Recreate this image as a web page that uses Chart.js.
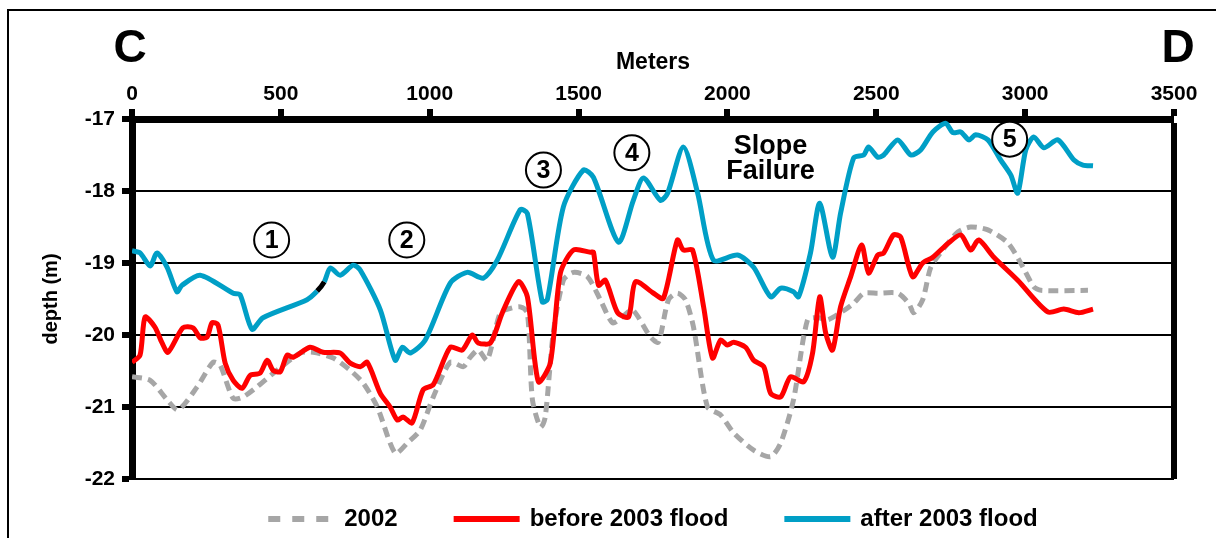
<!DOCTYPE html>
<html>
<head>
<meta charset="utf-8">
<script src="https://cdn.jsdelivr.net/npm/chart.js@4.4.1/dist/chart.umd.min.js"></script>
<style>
  html, body { margin: 0; padding: 0; background: #fff; }
  #wrap { position: relative; width: 1216px; height: 538px; overflow: hidden; }
  #frame { position: absolute; left: 7px; top: 9px; width: 1400px; height: 800px;
           border-left: 2px solid #000; border-top: 2px solid #000; }
  #chart { position: absolute; left: 0; top: 0; }
</style>
</head>
<body>
<div id="wrap">
  <div id="frame"></div>
  <canvas id="chart" width="1216" height="538"></canvas>
</div>
<script>
// ── Data (distance along profile C-D in m, depth in m) ──────────────────────

const seriesNames = ['2002', 'before 2003 flood', 'after 2003 flood'];

const dist2002 = [0, 61, 118, 155, 219, 272, 296, 340, 373, 420, 487, 565, 609, 676, 733, 777, 824, 884, 925, 968,
  1012, 1069, 1113, 1136, 1163, 1193, 1237, 1271, 1304, 1328, 1345, 1372, 1388, 1415, 1449, 1483, 1530, 1573, 1614, 1647,
  1681, 1742, 1768, 1802, 1832, 1859, 1886, 1933, 1977, 2021, 2088, 2145, 2179, 2222, 2269, 2306, 2336, 2380, 2424, 2458,
  2505, 2572, 2609, 2626, 2656, 2683, 2723, 2774, 2817, 2875, 2942, 2985, 3029, 3053, 3211];
const depth2002 = [-20.58, -20.63, -20.90, -21.04, -20.72, -20.38, -20.42, -20.88, -20.86, -20.72, -20.49, -20.25, -20.24, -20.32, -20.49, -20.67, -21.00, -21.64, -21.50, -21.32,
  -20.86, -20.38, -20.44, -20.31, -20.21, -20.35, -19.69, -19.63, -19.61, -19.69, -20.90, -21.28, -21.14, -19.97, -19.24, -19.13, -19.19, -19.51, -19.83, -19.75,
  -19.65, -20.03, -20.10, -19.51, -19.42, -19.51, -19.89, -21.00, -21.11, -21.36, -21.60, -21.69, -21.50, -20.90, -19.79, -19.76, -19.79, -19.69, -19.56, -19.42,
  -19.42, -19.42, -19.56, -19.69, -19.51, -19.06, -18.82, -18.57, -18.50, -18.54, -18.72, -19.00, -19.33, -19.38, -19.38];

const distBefore = [0, 27, 44, 77, 101, 121, 171, 205, 229, 252, 269, 289, 313, 340, 370, 397, 430, 454, 474, 498,
  521, 541, 598, 642, 699, 733, 767, 790, 834, 867, 891, 911, 941, 978, 1012, 1069, 1109, 1143, 1163, 1204,
  1244, 1298, 1328, 1365, 1405, 1439, 1483, 1540, 1550, 1567, 1590, 1631, 1668, 1691, 1752, 1785, 1832, 1852, 1883, 1920,
  1950, 1977, 2000, 2021, 2061, 2088, 2122, 2145, 2179, 2212, 2256, 2286, 2310, 2330, 2353, 2380, 2414, 2451, 2474, 2505,
  2525, 2558, 2582, 2622, 2656, 2690, 2743, 2784, 2817, 2844, 2895, 2975, 3076, 3130, 3180, 3228];
const depthBefore = [-20.38, -20.28, -19.75, -19.89, -20.11, -20.24, -19.90, -19.90, -20.04, -20.03, -19.83, -19.86, -20.39, -20.63, -20.74, -20.56, -20.53, -20.35, -20.49, -20.51,
  -20.28, -20.31, -20.17, -20.24, -20.25, -20.39, -20.44, -20.38, -20.81, -21.00, -21.18, -21.14, -21.22, -20.76, -20.69, -20.17, -20.21, -20.00, -20.11, -20.11,
  -19.69, -19.26, -19.47, -20.65, -20.39, -19.14, -18.82, -18.85, -18.85, -19.31, -19.24, -19.69, -19.75, -19.26, -19.42, -19.49, -18.68, -18.82, -18.82, -19.61,
  -20.32, -20.07, -20.14, -20.10, -20.17, -20.35, -20.44, -20.81, -20.86, -20.58, -20.65, -20.25, -19.47, -19.97, -20.21, -19.61, -19.19, -18.75, -19.14, -18.89,
  -18.86, -18.61, -18.64, -19.19, -19.00, -18.92, -18.72, -18.61, -18.82, -18.68, -18.92, -19.24, -19.68, -19.64, -19.69, -19.64];

const distAfter = [0, 27, 61, 84, 118, 151, 168, 229, 340, 363, 403, 440, 588, 622, 646, 666, 699, 743, 767, 834,
  884, 908, 935, 985, 1069, 1126, 1180, 1227, 1304, 1328, 1378, 1395, 1449, 1516, 1550, 1634, 1684, 1718, 1775, 1799,
  1852, 1900, 1953, 2034, 2088, 2145, 2179, 2222, 2239, 2279, 2310, 2353, 2380, 2424, 2458, 2474, 2505, 2525, 2572, 2616,
  2649, 2690, 2733, 2757, 2784, 2811, 2834, 2875, 2918, 2952, 2975, 3002, 3029, 3063, 3110, 3164, 3194, 3228];
const depthAfter = [-18.83, -18.86, -19.04, -18.86, -19.06, -19.40, -19.31, -19.17, -19.42, -19.44, -19.92, -19.76, -19.51, -19.39, -19.26, -19.07, -19.17, -19.03, -19.10, -19.65,
  -20.35, -20.17, -20.25, -20.07, -19.28, -19.13, -19.21, -18.96, -18.26, -18.31, -19.54, -19.51, -18.22, -17.71, -17.81, -18.71, -18.13, -17.82, -18.13, -18.03,
  -17.39, -18.03, -18.96, -18.89, -19.06, -19.47, -19.35, -19.40, -19.47, -18.86, -18.17, -18.92, -18.31, -17.54, -17.50, -17.39, -17.53, -17.50, -17.29, -17.50,
  -17.43, -17.18, -17.06, -17.19, -17.18, -17.29, -17.22, -17.29, -17.57, -17.78, -18.03, -17.43, -17.25, -17.40, -17.29, -17.57, -17.64, -17.65];

// short black piece on the after-flood profile
const blackPieceFrom = 622;

// circled site numbers: [label, distance, depth]
const sites = [['1', 469, -18.68], ['2', 923, -18.68], ['3', 1382, -17.71], ['4', 1679, -17.47], ['5', 2948, -17.28]];
const slopeNote = { text: ['Slope', 'Failure'], x: 2145, y: -17.55 };

const xTicksMin = 0, xTicksMax = 3500, xStep = 500;
const yTicksMin = -22, yTicksMax = -17, yStep = 1;

// ── Styling ──────────────────────────────────────────────────────────────────

const FONT = "'Liberation Sans', Arial, sans-serif";
Chart.defaults.font.family = FONT;
Chart.defaults.color = '#000';

const colors = ['#a6a6a6', '#ff0000', '#009fc6'];

function toPoints(xs, ys) {
  return xs.map((x, i) => ({ x: x, y: ys[i] }));
}

// ── Plugins ──────────────────────────────────────────────────────────────────

const annotations = {
  id: 'annotations',
  afterDatasetsDraw(chart) {
    const { ctx, chartArea, scales: { x, y } } = chart;
    ctx.save();
    ctx.fillStyle = '#000';
    ctx.textAlign = 'center';
    ctx.textBaseline = 'middle';

    // profile end letters
    ctx.font = 'bold 46px ' + FONT;
    ctx.fillText('C', chartArea.left - 2, 49);
    ctx.fillText('D', chartArea.right + 4, 49);

    // slope failure note
    ctx.font = 'bold 27px ' + FONT;
    const sx = x.getPixelForValue(slopeNote.x);
    const sy = y.getPixelForValue(slopeNote.y);
    ctx.fillText(slopeNote.text[0], sx, sy - 12);
    ctx.fillText(slopeNote.text[1], sx, sy + 13);

    // circled numbers
    sites.forEach(([label, d, z]) => {
      const cx = x.getPixelForValue(d);
      const cy = y.getPixelForValue(z);
      ctx.beginPath();
      ctx.arc(cx, cy, 17.5, 0, Math.PI * 2);
      ctx.fillStyle = '#fff';
      ctx.fill();
      ctx.lineWidth = 2;
      ctx.strokeStyle = '#000';
      ctx.stroke();
      ctx.fillStyle = '#000';
      ctx.font = 'bold 25px ' + FONT;
      ctx.fillText(label, cx, cy + 1);
    });
    ctx.restore();
  }
};

const bottomLegend = {
  id: 'bottomLegend',
  afterDraw(chart) {
    const { ctx, chartArea } = chart;
    const lineLen = 66, textGap = 10, itemGap = 56, yMid = 519;
    ctx.save();
    ctx.font = 'bold 24px ' + FONT;
    ctx.textBaseline = 'middle';
    ctx.textAlign = 'left';
    const widths = chart.data.datasets.map(ds => lineLen + textGap + ctx.measureText(ds.label).width);
    const total = widths.reduce((a, b) => a + b, 0) + itemGap * (widths.length - 1);
    let xPos = (chartArea.left + chartArea.right) / 2 - total / 2;
    chart.data.datasets.forEach((ds, i) => {
      ctx.beginPath();
      ctx.setLineDash(ds.borderDash ? [12, 12] : []);
      ctx.lineWidth = 6;
      ctx.lineCap = 'butt';
      ctx.strokeStyle = ds.borderColor;
      ctx.moveTo(xPos, yMid);
      ctx.lineTo(xPos + lineLen, yMid);
      ctx.stroke();
      ctx.setLineDash([]);
      ctx.fillStyle = '#000';
      ctx.fillText(ds.label, xPos + lineLen + textGap, yMid);
      xPos += widths[i] + itemGap;
    });
    ctx.restore();
  }
};

// ── Chart ────────────────────────────────────────────────────────────────────

new Chart(document.getElementById('chart'), {
  type: 'line',
  data: {
    datasets: [
      {
        label: seriesNames[0],
        data: toPoints(dist2002, depth2002),
        borderColor: colors[0],
        borderWidth: 5,
        borderDash: [10, 6],
        order: 3,
      },
      {
        label: seriesNames[1],
        data: toPoints(distBefore, depthBefore),
        borderColor: colors[1],
        borderWidth: 5,
        order: 2,
      },
      {
        label: seriesNames[2],
        data: toPoints(distAfter, depthAfter),
        borderColor: colors[2],
        borderWidth: 5,
        order: 1,
        segment: {
          borderColor: ctx => ctx.p0.parsed.x === blackPieceFrom ? '#000' : undefined
        }
      }
    ]
  },
  options: {
    responsive: false,
    animation: false,
    layout: { padding: { left: 0, right: 42, top: 0, bottom: 59 } },
    elements: {
      point: { radius: 0 },
      line: { tension: 0.25, fill: false, borderJoinStyle: 'round' }
    },
    plugins: {
      legend: { display: false },
      tooltip: { enabled: false }
    },
    scales: {
      x: {
        type: 'linear',
        position: 'top',
        min: xTicksMin,
        max: xTicksMax,
        afterFit: scale => { scale.height = 119; },
        ticks: {
          stepSize: xStep,
          maxRotation: 0,
          padding: 2,
          color: '#000',
          font: { size: 21, weight: 'bold' },
          callback: v => String(v)
        },
        title: {
          display: true,
          text: 'Meters',
          color: '#000',
          font: { size: 23, weight: 'bold' },
          padding: { top: 49, bottom: 0 }
        },
        grid: {
          drawOnChartArea: true,
          color: ctx => (ctx.tick && ctx.tick.value === xTicksMax) ? '#000' : 'rgba(0,0,0,0)',
          lineWidth: ctx => (ctx.tick && ctx.tick.value === xTicksMax) ? 6 : 0,
          tickColor: '#000',
          tickWidth: 6,
          tickLength: 10
        },
        border: { display: true, color: '#000', width: 7 }
      },
      y: {
        min: yTicksMin,
        max: yTicksMax,
        afterFit: scale => { scale.width = 132; },
        ticks: {
          stepSize: yStep,
          padding: 7,
          color: '#000',
          font: { size: 21, weight: 'bold' }
        },
        title: {
          display: true,
          text: 'depth (m)',
          color: '#000',
          font: { size: 20, weight: 'bold' },
          padding: { top: 39, bottom: 0 }
        },
        grid: {
          color: '#000',
          lineWidth: 2,
          tickColor: '#000',
          tickWidth: 6,
          tickLength: 10
        },
        border: { display: true, color: '#000', width: 7 }
      }
    }
  },
  plugins: [annotations, bottomLegend]
});
</script>
</body>
</html>
